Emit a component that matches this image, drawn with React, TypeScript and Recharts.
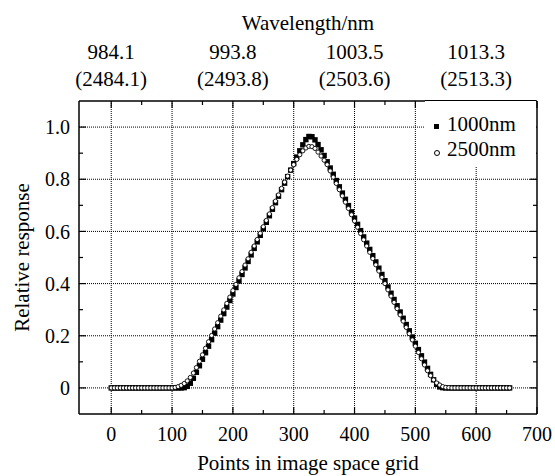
import React from 'react';
import { ScatterChart, Scatter, XAxis, YAxis, ReferenceLine } from 'recharts';

// points in image space grid (x)
const gridPoints = [
  0, 5, 10, 15, 20, 25, 30, 35, 40, 45,
  50, 55, 60, 65, 70, 75, 80, 85, 90, 95,
  100, 105, 110, 115, 120, 125, 130, 135, 140, 145,
  150, 155, 160, 165, 170, 175, 180, 185, 190, 195,
  200, 205, 210, 215, 220, 225, 230, 235, 240, 245,
  250, 255, 260, 265, 270, 275, 280, 285, 290, 295,
  300, 305, 310, 315, 320, 325, 330, 335, 340, 345,
  350, 355, 360, 365, 370, 375, 380, 385, 390, 395,
  400, 405, 410, 415, 420, 425, 430, 435, 440, 445,
  450, 455, 460, 465, 470, 475, 480, 485, 490, 495,
  500, 505, 510, 515, 520, 525, 530, 535, 540, 545,
  550, 555, 560, 565, 570, 575, 580, 585, 590, 595,
  600, 605, 610, 615, 620, 625, 630, 635, 640, 645,
  650, 655,
];

const resp1000 = [
  0, 0, 0, 0, 0, 0, 0, 0, 0, 0,
  0, 0, 0, 0, 0, 0, 0, 0, 0, 0,
  0, 0, 0, 0, 0.001, 0.006, 0.018, 0.037, 0.06, 0.085,
  0.11, 0.135, 0.16, 0.185, 0.21, 0.235, 0.26, 0.285, 0.31, 0.335,
  0.36, 0.385, 0.41, 0.435, 0.46, 0.485, 0.51, 0.535, 0.56, 0.585,
  0.61, 0.635, 0.66, 0.685, 0.71, 0.735, 0.76, 0.785, 0.81, 0.835,
  0.86, 0.885, 0.909, 0.932, 0.952, 0.964, 0.963, 0.951, 0.933, 0.913,
  0.891, 0.867, 0.843, 0.819, 0.795, 0.771, 0.747, 0.723, 0.699, 0.675,
  0.651, 0.627, 0.603, 0.579, 0.555, 0.531, 0.507, 0.483, 0.459, 0.435,
  0.411, 0.387, 0.363, 0.339, 0.315, 0.291, 0.267, 0.243, 0.219, 0.195,
  0.171, 0.147, 0.123, 0.099, 0.075, 0.052, 0.031, 0.014, 0.004, 0.001,
  0, 0, 0, 0, 0, 0, 0, 0, 0, 0,
  0, 0, 0, 0, 0, 0, 0, 0, 0, 0,
  0, 0,
];

const resp2500 = [
  0, 0, 0, 0, 0, 0, 0, 0, 0, 0,
  0, 0, 0, 0, 0, 0, 0, 0, 0, 0,
  0, 0.002, 0.005, 0.01, 0.017, 0.027, 0.04, 0.057, 0.078, 0.102,
  0.127, 0.152, 0.177, 0.201, 0.226, 0.25, 0.275, 0.299, 0.324, 0.348,
  0.373, 0.397, 0.422, 0.446, 0.471, 0.495, 0.52, 0.544, 0.569, 0.593,
  0.618, 0.642, 0.667, 0.691, 0.716, 0.74, 0.765, 0.789, 0.812, 0.835,
  0.856, 0.876, 0.894, 0.909, 0.92, 0.926, 0.925, 0.918, 0.904, 0.889,
  0.873, 0.856, 0.832, 0.808, 0.784, 0.76, 0.736, 0.712, 0.688, 0.664,
  0.64, 0.616, 0.592, 0.568, 0.544, 0.52, 0.496, 0.472, 0.448, 0.424,
  0.4, 0.376, 0.352, 0.328, 0.304, 0.28, 0.256, 0.232, 0.208, 0.184,
  0.16, 0.136, 0.112, 0.088, 0.066, 0.047, 0.031, 0.019, 0.011, 0.005,
  0.002, 0.001, 0, 0, 0, 0, 0, 0, 0, 0,
  0, 0, 0, 0, 0, 0, 0, 0, 0, 0,
  0, 0,
];

// major ticks get labels and grid lines, the rest are short minor ticks
const xTicks = [0, 100, 200, 300, 400, 500, 600, 700];
const xAllTicks = [0, 50, 100, 150, 200, 250, 300, 350, 400, 450, 500, 550, 600, 650, 700];
const yTicks = [0, 0.2, 0.4, 0.6, 0.8, 1.0];
const yAllTicks = [0, 0.1, 0.2, 0.3, 0.4, 0.5, 0.6, 0.7, 0.8, 0.9, 1.0];

const topTicks = [0, 200, 400, 600];
const wl1000Labels = ['984.1', '993.8', '1003.5', '1013.3'];
const wl2500Labels = ['(2484.1)', '(2493.8)', '(2503.6)', '(2513.3)'];

const data1000 = gridPoints.map((x, i) => ({ x, y: resp1000[i] }));
const data2500 = gridPoints.map((x, i) => ({ x, y: resp2500[i] }));

const FONT = '"Liberation Serif", "Times New Roman", serif';
const xDomain: [number, number] = [-53, 700];
const yDomain: [number, number] = [-0.1, 1.1];
const frame = { stroke: '#000', strokeWidth: 1.5 };
const tickFont = { fontSize: 20, fill: '#000', fontFamily: FONT };
const topFont = { fontSize: 21, fill: '#000', fontFamily: FONT };
const labelStyle = { fontSize: 21, fill: '#000', fontFamily: FONT };

const isMajorX = (v: number) => xTicks.includes(v);
const isMajorY = (v: number) => yTicks.some((t) => Math.abs(t - v) < 1e-6);

const SquareDot = (p: any) => (
  <rect x={p.cx - 2.7} y={p.cy - 2.7} width={5.4} height={5.4} fill="#000" />
);

const RingDot = (p: any) => (
  <circle cx={p.cx} cy={p.cy} r={2.1} fill="#fff" stroke="#000" strokeWidth={0.9} />
);

const BottomTick = (props: any) => {
  const { x, y, payload } = props;
  const major = isMajorX(payload.value);
  return (
    <g>
      <line x1={x} x2={x} y1={y} y2={y - (major ? 7 : 4)} stroke="#000" strokeWidth={1.2} />
      {major && (
        <text x={x} y={y + 13} dy="0.71em" textAnchor="middle" {...tickFont}>{payload.value}</text>
      )}
    </g>
  );
};

const TopTick = (props: any) => {
  const { x, y, payload } = props;
  const major = isMajorX(payload.value);
  const i = topTicks.indexOf(payload.value);
  return (
    <g>
      <line x1={x} x2={x} y1={y} y2={y + (major ? 7 : 4)} stroke="#000" strokeWidth={1.2} />
      {i >= 0 && <text x={x} y={59} textAnchor="middle" {...topFont}>{wl1000Labels[i]}</text>}
      {i >= 0 && <text x={x} y={86} textAnchor="middle" {...topFont}>{wl2500Labels[i]}</text>}
    </g>
  );
};

const LeftTick = (props: any) => {
  const { x, y, payload } = props;
  const major = isMajorY(payload.value);
  return (
    <g>
      <line x1={x} x2={x + (major ? 7 : 4)} y1={y} y2={y} stroke="#000" strokeWidth={1.2} />
      {major && (
        <text x={x - 9} y={y} dy="0.355em" textAnchor="end" {...tickFont}>
          {payload.value === 0 ? '0' : payload.value.toFixed(1)}
        </text>
      )}
    </g>
  );
};

const RightTick = (props: any) => {
  const { x, y, payload } = props;
  const major = isMajorY(payload.value);
  return <line x1={x} x2={x - (major ? 7 : 4)} y1={y} y2={y} stroke="#000" strokeWidth={1.2} />;
};

const App = () => {
  return (
    <div style={{ position: 'absolute', left: 0, top: 0, width: 555, height: 476, background: '#fff' }}>
      <ScatterChart width={555} height={476} margin={{ top: 0, right: 0, bottom: 0, left: 0 }}>
        {xTicks.slice(0, -1).map((v) => (
          <ReferenceLine key={'gx' + v} x={v} stroke="#000" strokeDasharray="1 1" />
        ))}
        {yTicks.map((v) => (
          <ReferenceLine key={'gy' + v} y={v} stroke="#000" strokeDasharray="1 1" />
        ))}

        <XAxis
          dataKey="x"
          type="number"
          domain={xDomain}
          allowDataOverflow
          ticks={xAllTicks}
          interval={0}
          height={62}
          axisLine={frame}
          tickLine={false}
          tickSize={0}
          tickMargin={0}
          tick={BottomTick}
          label={{ value: 'Points in image space grid', position: 'insideBottom', offset: 6, style: labelStyle }}
        />
        <XAxis
          xAxisId="top"
          dataKey="x"
          type="number"
          orientation="top"
          domain={xDomain}
          allowDataOverflow
          ticks={xAllTicks}
          interval={0}
          height={101}
          axisLine={frame}
          tickLine={false}
          tickSize={0}
          tickMargin={0}
          tick={TopTick}
          label={{ value: 'Wavelength/nm', position: 'insideTop', offset: 15, style: labelStyle }}
        />

        <YAxis
          dataKey="y"
          type="number"
          domain={yDomain}
          allowDataOverflow
          ticks={yAllTicks}
          interval={0}
          width={79}
          axisLine={frame}
          tickLine={false}
          tickSize={0}
          tickMargin={0}
          tick={LeftTick}
          label={{ value: 'Relative response', angle: -90, position: 'insideLeft', offset: 22, style: { ...labelStyle, textAnchor: 'middle' } }}
        />
        <YAxis
          yAxisId="right"
          dataKey="y"
          type="number"
          orientation="right"
          domain={yDomain}
          allowDataOverflow
          ticks={yAllTicks}
          interval={0}
          width={18}
          axisLine={frame}
          tickLine={false}
          tickSize={0}
          tickMargin={0}
          tick={RightTick}
        />

        <Scatter name="1000nm" data={data1000} dataKey="y" shape={SquareDot} isAnimationActive={false} />
        <Scatter name="2500nm" data={data2500} dataKey="y" xAxisId="top" yAxisId="right" shape={RingDot} isAnimationActive={false} />
      </ScatterChart>

      <div
        style={{
          position: 'absolute',
          left: 425,
          top: 100,
          width: 111,
          height: 66,
          background: '#fff',
          borderTop: '1px solid #000',
          fontFamily: FONT,
          fontSize: 21,
          lineHeight: '21px',
          color: '#000',
        }}
      >
        <div style={{ position: 'absolute', left: 9, top: 23, width: 5, height: 5, background: '#000' }} />
        <div style={{ position: 'absolute', left: 22, top: 13, whiteSpace: 'nowrap' }}>1000nm</div>
        <div
          style={{
            position: 'absolute',
            left: 9,
            top: 49,
            width: 4,
            height: 4,
            borderRadius: '50%',
            border: '1px solid #000',
            background: '#fff',
          }}
        />
        <div style={{ position: 'absolute', left: 22, top: 38, whiteSpace: 'nowrap' }}>2500nm</div>
      </div>
    </div>
  );
};

export default App;
